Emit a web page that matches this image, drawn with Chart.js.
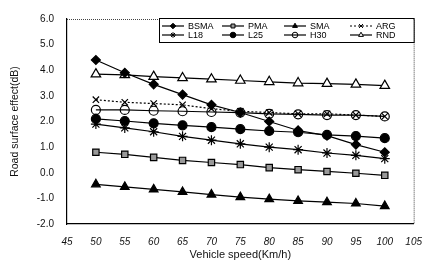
<!DOCTYPE html>
<html>
<head>
<meta charset="utf-8">
<script src="https://cdn.jsdelivr.net/npm/chart.js@4/dist/chart.umd.min.js"></script>
<style>
  html, body { margin: 0; padding: 0; background: #fff; }
  #wrap { width: 434px; height: 262px; }
</style>
</head>
<body>
<div id="wrap"><canvas id="c" width="434" height="262"></canvas></div>
<script>
// vehicle speed (km/h)
const speeds = [50, 55, 60, 65, 70, 75, 80, 85, 90, 95, 100];

// road surface effect (dB) per pavement
const seriesNames = ["BSMA", "PMA", "SMA", "ARG", "L18", "L25", "H30", "RND"];
const bsma = [4.4, 3.9, 3.45, 3.05, 2.65, 2.35, 2.0, 1.65, 1.45, 1.1, 0.8];
const pma  = [0.8, 0.72, 0.6, 0.48, 0.4, 0.32, 0.2, 0.12, 0.05, -0.02, -0.1];
const sma  = [-0.45, -0.55, -0.65, -0.75, -0.85, -0.95, -1.03, -1.1, -1.15, -1.2, -1.3];
const arg  = [2.85, 2.75, 2.7, 2.65, 2.5, 2.4, 2.35, 2.3, 2.3, 2.25, 2.2];
const l18  = [1.9, 1.75, 1.6, 1.42, 1.27, 1.13, 1.0, 0.9, 0.77, 0.68, 0.55];
const l25  = [2.1, 2.02, 1.93, 1.85, 1.78, 1.7, 1.63, 1.58, 1.48, 1.43, 1.35];
const h30  = [2.45, 2.45, 2.42, 2.4, 2.37, 2.35, 2.3, 2.28, 2.25, 2.25, 2.2];
const rnd  = [3.85, 3.82, 3.75, 3.7, 3.65, 3.6, 3.55, 3.5, 3.48, 3.45, 3.4];

const yTicks = [-2, -1, 0, 1, 2, 3, 4, 5, 6];

const values = [bsma, pma, sma, arg, l18, l25, h30, rnd];
const styles = [
  { pointStyle: "rectRot",  radius: 4.5, bg: "#000", dash: [] },
  { pointStyle: "rect",     radius: 4.5, bg: "#999", dash: [] },
  { pointStyle: "triangle", radius: 5,   bg: "#000", dash: [] },
  { pointStyle: "crossRot", radius: 4.5, bg: "#000", dash: [2, 2] },
  { pointStyle: "star",     radius: 5,   bg: "#000", dash: [] },
  { pointStyle: "circle",   radius: 4.5, bg: "#000", dash: [] },
  { pointStyle: "circle",   radius: 4.5, bg: "rgba(0,0,0,0)", dash: [] },
  { pointStyle: "triangle", radius: 5.5, bg: "#fff", dash: [] },
];

const datasets = seriesNames.map((name, i) => ({
  label: name,
  data: speeds.map((s, j) => ({ x: s, y: values[i][j] })),
  borderColor: "#000",
  borderWidth: 1.2,
  borderDash: styles[i].dash,
  pointStyle: styles[i].pointStyle,
  pointRadius: styles[i].radius,
  pointBackgroundColor: styles[i].bg,
  pointBorderColor: "#000",
  pointBorderWidth: 1.2,
  tension: 0,
  fill: false,
}));

// dotted frame on top/right and legend drawn inside the plot
const framePlugin = {
  id: "frameAndLegend",
  afterDraw(chart) {
    const ctx = chart.ctx;
    const a = chart.chartArea;
    ctx.save();
    ctx.strokeStyle = "#444";
    ctx.lineWidth = 1;
    ctx.setLineDash([1, 1]);
    ctx.beginPath();
    ctx.moveTo(a.left, a.top + 0.5);
    ctx.lineTo(a.right + 0.5, a.top + 0.5);
    ctx.lineTo(a.right + 0.5, a.bottom);
    ctx.stroke();
    ctx.setLineDash([]);

    // legend box
    const bx = 159, by = 18, bw = a.right - 159, bh = 24;
    ctx.fillStyle = "#fff";
    ctx.fillRect(bx, by, bw, bh);
    ctx.strokeStyle = "#000";
    ctx.strokeRect(bx + 0.5, by + 0.5, bw, bh);

    const colX = [162, 222, 284, 350];
    const rowY = [26, 35];
    ctx.font = "9px 'Liberation Sans', Arial, sans-serif";
    ctx.textBaseline = "middle";
    ctx.textAlign = "left";
    chart.data.datasets.forEach((ds, i) => {
      const x0 = colX[i % 4];
      const y0 = rowY[Math.floor(i / 4)];
      ctx.strokeStyle = "#000";
      ctx.lineWidth = 1.2;
      ctx.setLineDash(ds.borderDash || []);
      ctx.beginPath();
      ctx.moveTo(x0, y0);
      ctx.lineTo(x0 + 22, y0);
      ctx.stroke();
      ctx.setLineDash([]);
      ctx.fillStyle = ds.pointBackgroundColor;
      ctx.strokeStyle = "#000";
      ctx.lineWidth = 1;
      Chart.helpers.drawPoint(ctx, { pointStyle: ds.pointStyle, radius: 2.8, rotation: 0, borderWidth: 1 }, x0 + 11, y0);
      ctx.fillStyle = "#000";
      ctx.fillText(ds.label, x0 + 26, y0 + 0.5);
    });
    ctx.restore();
  },
};

new Chart(document.getElementById("c"), {
  type: "line",
  data: { datasets },
  plugins: [framePlugin],
  options: {
    responsive: false,
    animation: false,
    layout: { padding: { left: 0, right: 19, top: 14, bottom: 0 } },
    plugins: {
      legend: { display: false },
      tooltip: { enabled: false },
    },
    scales: {
      x: {
        type: "linear",
        min: 45,
        max: 105,
        afterFit(scale) { scale.height = 38; },
        grid: { display: false, drawTicks: false },
        border: { display: true, color: "#000", width: 1.2 },
        ticks: {
          stepSize: 5,
          padding: 12,
          color: "#111",
          font: { family: "'Liberation Sans', Arial, sans-serif", size: 10, style: "italic" },
        },
        title: {
          display: true,
          text: "Vehicle speed(Km/h)",
          color: "#111",
          padding: { top: 0, bottom: 0 },
          font: { family: "'Liberation Sans', Arial, sans-serif", size: 11 },
        },
      },
      y: {
        min: -2,
        max: 6,
        afterFit(scale) { scale.width = 67; },
        afterBuildTicks(scale) { scale.ticks = yTicks.map(v => ({ value: v })); },
        grid: { display: false, drawTicks: false },
        border: { display: true, color: "#000", width: 1.2 },
        ticks: {
          padding: 13,
          color: "#111",
          font: { family: "'Liberation Sans', Arial, sans-serif", size: 10 },
          callback: v => v.toFixed(1),
        },
        title: {
          display: true,
          text: "Road surface effect(dB)",
          color: "#111",
          padding: { top: 9, bottom: 0 },
          font: { family: "'Liberation Sans', Arial, sans-serif", size: 10.5 },
        },
      },
    },
  },
});
</script>
</body>
</html>
